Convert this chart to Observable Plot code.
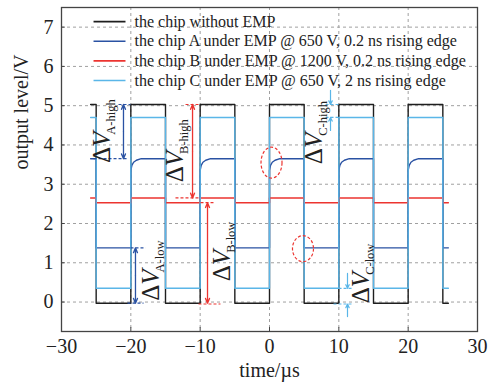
<!DOCTYPE html>
<html><head><meta charset="utf-8">
<script src="https://cdn.jsdelivr.net/npm/d3@7"></script>
<script src="https://cdn.jsdelivr.net/npm/@observablehq/plot@0.6"></script>
<style>
body{margin:0;background:#fff;}
#chart svg{font-family:"Liberation Serif","Times New Roman",serif;}
</style></head><body><div id="chart"></div>
<script>
// ---- data ----
const xTicks = [-30, -20, -10, 0, 10, 20, 30];
const yTicks = [0, 1, 2, 3, 4, 5, 6, 7];
const seriesKeys = ["none", "A", "B", "C"];
const seriesLabels = [
  "the chip without EMP",
  "the chip A under EMP @ 650 V, 0.2 ns rising edge",
  "the chip B under EMP @ 1200 V, 0.2 ns rising edge",
  "the chip C under EMP @ 650 V, 2 ns rising edge"
];
const highLevel = [5.03, 3.65, 2.65, 4.70];   // V while the output is high
const lowLevel = [-0.03, 1.38, 2.53, 0.35];   // V while the output is low
const traceStart = -25.8, traceEnd = 25.8;    // µs
const edgeTimes = [-25, -20, -15, -10, -5, 0, 5, 10, 15, 20, 25]; // first edge is falling
const recoveryOffsetA = [0, 0.15, 0.4, 0.8, 1.5];      // µs after a rising edge
const recoveryLevelA = [3.35, 3.48, 3.56, 3.61, 3.65];  // V

// annotations (data coordinates)
const arrowKeys = ["A", "B", "A", "B"];
const arrowX = [-21.06, -11.1, -19.33, -8.94];
const arrowTop = [5.03, 5.03, 1.38, 2.53];
const arrowBottom = [3.65, 2.65, -0.03, -0.03];
const inArrowX = [8.8, 8.8, 11.25, 11.25];
const inArrowFrom = [5.39, 4.37, 0.73, -0.37];
const inArrowTo = [5.03, 4.70, 0.35, -0.05];
const refKeys = ["A","A","B","B","B","B","A","A","C","C","C","C"];
const refX1 = [-21.78, -25.38, -12.11, -13.56, -9.95, -10.24, -20.05, -20.48, 8.08, 8.08, 9.96, 9.23];
const refX2 = [-20.05, -20.48, -9.95, -10.24, -8.08, -7.07, -17.88, -18.17, 9.96, 9.96, 12.12, 12.12];
const refY = [5.03, 3.65, 5.03, 2.65, 2.53, -0.05, 1.38, -0.03, 5.03, 4.70, 0.35, -0.05];
const labelSubs = ["A-high", "B-high", "C-high", "A-low", "B-low", "C-low"];
const labelX = [-24.23, -13.56, 6.35, -17.16, -6.92, 13.13];
const labelY = [3.54, 3.05, 3.51, 0.03, 0.53, -0.03];
const circleX = [0.29, 4.83];
const circleY = [3.55, 1.36];

// ---- styles ----
const colors = ["#1e1e1e", "#2a52a3", "#ec3430", "#5ab6e8"];
const colorOf = k => colors[seriesKeys.indexOf(k)];

// ---- build traces ----
const traces = [];
seriesKeys.forEach((key, s) => {
  let high = true;
  traces.push({key, t: traceStart, v: highLevel[s]});
  edgeTimes.forEach(t => {
    traces.push({key, t, v: high ? highLevel[s] : lowLevel[s]});
    high = !high;
    if (high && key === "A") {
      recoveryOffsetA.forEach((o, i) => traces.push({key, t: t + o, v: recoveryLevelA[i]}));
    } else {
      traces.push({key, t, v: high ? highLevel[s] : lowLevel[s]});
    }
  });
  traces.push({key, t: traceEnd, v: high ? highLevel[s] : lowLevel[s]});
});

const arrows = arrowX.map((x, i) => ({x, top: arrowTop[i], bottom: arrowBottom[i], mid: (arrowTop[i] + arrowBottom[i]) / 2, key: arrowKeys[i]}));
const inArrows = inArrowX.map((x, i) => ({x, from: inArrowFrom[i], to: inArrowTo[i]}));
const refs = refX1.map((x1, i) => ({x1, x2: refX2[i], y: refY[i], key: refKeys[i]}));
const labels = labelSubs.map((sub, i) => ({sub, x: labelX[i], y: labelY[i]}));
const circles = circleX.map((x, i) => ({x, y: circleY[i]}));
const legend = seriesLabels.map((label, i) => ({label, key: seriesKeys[i], row: i}));
const legendTop = 7.14, legendStep = 0.5, legendX1 = -25.38, legendX2 = -20.77, legendTextX = -19.47;

const ellipse = rx => ({
  draw(ctx, size) {
    const ry = Math.sqrt(size / Math.PI), k = 0.5523;
    ctx.moveTo(rx, 0);
    ctx.bezierCurveTo(rx, ry * k, rx * k, ry, 0, ry);
    ctx.bezierCurveTo(-rx * k, ry, -rx, ry * k, -rx, 0);
    ctx.bezierCurveTo(-rx, -ry * k, -rx * k, -ry, 0, -ry);
    ctx.bezierCurveTo(rx * k, -ry, rx, -ry * k, rx, 0);
    ctx.closePath();
  }
});

const fmt = d => (d < 0 ? "\u2212" + Math.abs(d) : String(d));

const plot = Plot.plot({
  width: 499, height: 387,
  marginLeft: 61, marginRight: 22, marginTop: 7, marginBottom: 56,
  style: {fontFamily: "'Liberation Serif', 'Times New Roman', serif", fontSize: "20px", color: "#222", background: "#fff"},
  x: {domain: [-30, 30], ticks: xTicks, tickFormat: fmt, tickSize: 0, tickPadding: 7, label: null},
  y: {domain: [-0.75, 7.5], ticks: yTicks, tickFormat: fmt, tickSize: 0, tickPadding: 8, label: null},
  marks: [
    Plot.ruleX(xTicks.slice(1, -1), {stroke: "#a0a0a0", strokeDasharray: "3,3", strokeWidth: 1}),
    Plot.ruleY(yTicks, {stroke: "#a0a0a0", strokeDasharray: "3,3", strokeWidth: 1}),
    Plot.ruleY(yTicks, {x1: -30, x2: -29.45, stroke: "#444"}),
    Plot.ruleX(xTicks, {y1: -0.75, y2: -0.65, stroke: "#444"}),
    Plot.line(traces, {x: "t", y: "v", z: "key", stroke: d => colorOf(d.key), strokeWidth: 1.4, curve: "linear"}),
    // dashed reference lines
    Plot.link(refs, {x1: "x1", x2: "x2", y1: "y", y2: "y", stroke: d => colorOf(d.key), strokeDasharray: "3,2", strokeWidth: 1.2}),
    // double-headed arrows
    Plot.arrow(arrows, {x1: "x", x2: "x", y1: "mid", y2: "top", stroke: d => colorOf(d.key), headLength: 6, headAngle: 45, strokeWidth: 1.3}),
    Plot.arrow(arrows, {x1: "x", x2: "x", y1: "mid", y2: "bottom", stroke: d => colorOf(d.key), headLength: 6, headAngle: 45, strokeWidth: 1.3}),
    // inward arrows (chip C)
    Plot.arrow(inArrows, {x1: "x", x2: "x", y1: "from", y2: "to", stroke: colorOf("C"), headLength: 5, headAngle: 50, strokeWidth: 1.2}),
    // dashed circles
    Plot.dot(circles.slice(0, 1), {x: "x", y: "y", r: 15.5, symbol: ellipse(10.5), stroke: "#ec3430", fill: "none", strokeDasharray: "3,2", strokeWidth: 1.2}),
    Plot.dot(circles.slice(1), {x: "x", y: "y", r: 13, symbol: ellipse(10.5), stroke: "#ec3430", fill: "none", strokeDasharray: "3,2", strokeWidth: 1.2}),
    // ΔV labels
    Plot.text(labels, {x: "x", y: "y", text: () => "ΔV", rotate: -90, textAnchor: "start", fontSize: 25, fill: "#222"}),
    // legend
    Plot.link(legend, {x1: legendX1, x2: legendX2, y1: d => legendTop - d.row * legendStep, y2: d => legendTop - d.row * legendStep, stroke: d => colorOf(d.key), strokeWidth: 1.6}),
    Plot.text(legend, {x: legendTextX, y: d => legendTop - d.row * legendStep, text: "label", textAnchor: "start", fontSize: 16, fill: "#222"}),
    // axis titles
    Plot.text(["time/µs"], {frameAnchor: "bottom", dy: 45, text: d => d, fontSize: 20, fill: "#222"}),
    Plot.text(["output level/V"], {frameAnchor: "left", dx: -40, rotate: -90, text: d => d, fontSize: 20, fill: "#222"}),
    Plot.frame({stroke: "#444", strokeWidth: 1.3})
  ]
});

// italic V and subscripts inside the ΔV labels
let li = 0;
plot.querySelectorAll("text").forEach(el => {
  if (el.textContent === "ΔV" && li < labels.length) {
    const sub = labels[li++].sub;
    el.textContent = "";
    const ns = "http://www.w3.org/2000/svg";
    const t1 = document.createElementNS(ns, "tspan"); t1.textContent = "Δ"; el.appendChild(t1);
    const t2 = document.createElementNS(ns, "tspan"); t2.textContent = "V"; t2.setAttribute("font-style", "italic"); el.appendChild(t2);
    const t3 = document.createElementNS(ns, "tspan"); t3.textContent = sub; t3.setAttribute("font-size", "12.5"); t3.setAttribute("dy", "5"); t3.setAttribute("dx", "-3"); el.appendChild(t3);
  }
});

document.getElementById("chart").appendChild(plot);
</script>
</body></html>
